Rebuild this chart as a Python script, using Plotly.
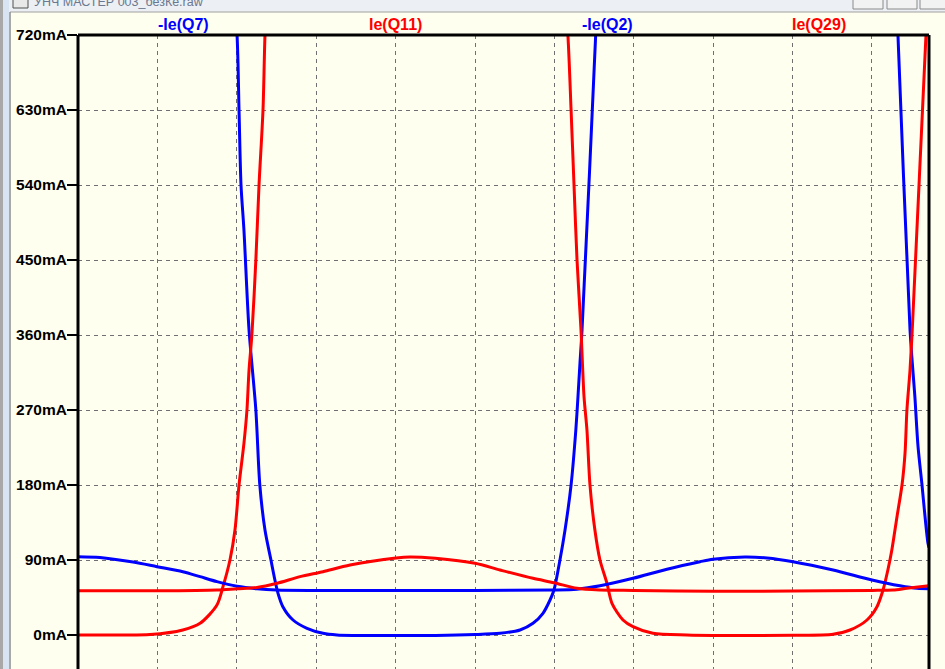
import plotly.graph_objects as go

# time in microseconds (grid every 100 us), currents in mA
t_q7 = [0, 150, 190, 200.3, 202.8, 205.3, 209, 215.4, 224, 229, 235.5, 243, 248, 251.9, 258, 270.8,
        288.4, 308.6, 326.2, 350, 400, 450, 500, 531.5, 556.7, 573, 585.6, 594.5, 599.5, 607,
        613.4, 621, 627, 629.7, 632.2, 634.8, 652, 662, 700, 800, 980, 1022, 1032.7, 1047.9,
        1054, 1058, 1063, 1066.8, 1070.5, 1071.8]
ie_q7 = [1500, 1100, 850, 720, 630, 540, 486, 366, 270, 180, 126, 90, 66, 50, 34, 18,
         8, 2, 0, -0.5, -0.6, -0.5, 0.5, 2, 6, 14, 26, 42, 54, 90,
         126, 180, 246, 286, 326, 366, 720, 950, 1300, 1500, 1300, 950, 720, 366,
         286, 226, 180, 142, 110, 105]

t_q11 = [0, 50, 90.7, 132, 153.7, 175, 182.6, 191.4, 197.7, 202.8, 209, 212.8, 215.4, 219, 224,
         228, 233, 235.5, 245, 300, 500, 600, 617, 621, 624.7, 628.5, 633.5, 637.3, 641, 644.8,
         651, 657.4, 666.2, 672.5, 686.4, 699, 724, 767, 800, 900, 951, 972.3, 993.7, 1006.3,
         1013.9, 1020, 1025, 1031.5, 1037.8, 1041.6, 1044, 1047.9, 1050.4, 1068, 1075]
ie_q11 = [0, 0, 0.5, 6, 14, 36, 58, 90, 126, 180, 230, 270, 318, 360, 450,
          540, 630, 720, 950, 1400, 1400, 950, 720, 630, 540, 450, 366, 286, 246, 180,
          126, 90, 62, 38, 18, 10, 2, 0, -0.5, -0.3, 1, 6, 18, 34,
          54, 78, 102, 142, 180, 218, 270, 318, 360, 720, 850]

t_q2 = [0, 27.7, 69.3, 99.5, 132, 153.7, 175, 200.3, 225.4, 250, 300, 400, 500, 600,
        628.5, 657.4, 699, 741.8, 783.4, 799.7, 840, 867.8, 900.5, 951, 1000, 1035.3, 1056.7, 1071.8]
ie_q2 = [94, 93, 87.5, 82, 76, 70, 64, 58.5, 55.5, 54, 53.5, 53.5, 53.5, 54,
         55, 59, 68, 79, 88, 91, 93.6, 92.4, 88, 78, 66, 59, 56, 55.5]

t_q29 = [0, 100, 175, 200.3, 225.4, 250.6, 279.6, 308.6, 342.6, 400.5, 418, 450, 500, 531.5,
         573, 599.5, 628.5, 657.4, 700, 800, 900, 1000, 1026.4, 1044, 1071.8]
ie_q29 = [53, 53, 54, 55.6, 57, 62, 70, 76, 84, 92.4, 93.6, 92, 86, 78,
          68, 62.8, 56, 54, 53.5, 52.5, 52.8, 53.5, 54, 56, 59]

y_ticks = [0, 90, 180, 270, 360, 450, 540, 630, 720]
y_labels = [str(v) + "mA" for v in y_ticks]

traces = [("-Ie(Q7)", t_q7, ie_q7, "#0000ff"),
          ("Ie(Q11)", t_q11, ie_q11, "#ff0000"),
          ("-Ie(Q2)", t_q2, ie_q2, "#0000ff"),
          ("Ie(Q29)", t_q29, ie_q29, "#ff0000")]

bg = "#fffff0"
W, H = 945, 669
L, R, T = 78, 929, 35
pw, ph = R - L, H - T


def px(x):
    return (x - L) / pw


def py(y):
    return (H - y) / ph


fig = go.Figure()
for name, t, y, col in traces:
    fig.add_trace(go.Scatter(x=t, y=y, mode="lines", name=name,
                             line=dict(color=col, width=3, shape="spline", smoothing=0.8)))

fig.update_layout(
    width=W, height=H,
    margin=dict(l=L, r=W - R, t=T, b=0),
    paper_bgcolor=bg, plot_bgcolor=bg,
    showlegend=False,
    font=dict(family="Liberation Sans, Arial, sans-serif", color="black"),
)
fig.update_xaxes(range=[0, 1071.8], dtick=100, tick0=0, showticklabels=False, ticks="",
                 showgrid=True, gridcolor="#707070", gridwidth=1, griddash="4px,4px",
                 zeroline=False, showline=False)
fig.update_yaxes(range=[-40.8, 720], tickvals=y_ticks, ticktext=y_labels,
                 tickfont=dict(size=15.5, weight="bold", color="black"),
                 ticks="outside", ticklen=10, tickwidth=2, tickcolor="black",
                 ticklabelstandoff=-3,
                 showgrid=True, gridcolor="#707070", gridwidth=1, griddash="4px,4px",
                 zeroline=False, showline=False)

shapes = []
# plot frame (bottom is cut off by the window)
shapes.append(dict(type="line", xref="paper", yref="paper", x0=0, x1=0, y0=0, y1=1,
                   line=dict(color="black", width=3)))
shapes.append(dict(type="line", xref="paper", yref="paper", x0=0, x1=1, y0=1, y1=1,
                   line=dict(color="black", width=3)))
shapes.append(dict(type="line", xref="paper", yref="paper", x0=1, x1=1, y0=0, y1=1,
                   line=dict(color="black", width=3)))
# window chrome: title bar and left border
shapes.append(dict(type="rect", xref="paper", yref="paper", x0=px(0), x1=px(W), y0=py(12), y1=py(-2),
                   fillcolor="#eceff3", line=dict(width=0), layer="below"))
shapes.append(dict(type="line", xref="paper", yref="paper", x0=px(10), x1=px(W), y0=py(12), y1=py(12),
                   line=dict(color="#a0a0a0", width=1)))
shapes.append(dict(type="rect", xref="paper", yref="paper", x0=px(0), x1=px(3), y0=py(H), y1=py(0),
                   fillcolor="#a8a8a8", line=dict(width=0)))
shapes.append(dict(type="rect", xref="paper", yref="paper", x0=px(3), x1=px(9), y0=py(H), y1=py(0),
                   fillcolor="#d8e4f2", line=dict(width=0)))
shapes.append(dict(type="line", xref="paper", yref="paper", x0=px(10), x1=px(10), y0=py(H), y1=py(12),
                   line=dict(color="#8c8c8c", width=1.5)))
shapes.append(dict(type="rect", xref="paper", yref="paper", x0=px(13), x1=px(28), y0=py(8), y1=py(-2),
                   fillcolor="#e8e8e8", line=dict(color="#505050", width=1)))
for bx0, bx1 in [(853, 883), (887, 917), (920, 950)]:
    shapes.append(dict(type="rect", xref="paper", yref="paper", x0=px(bx0), x1=px(bx1),
                       y0=py(9), y1=py(-4), fillcolor="#f2f2f2", line=dict(color="#8a8a8a", width=1)))
fig.update_layout(shapes=shapes)

annotations = []
label_x = [183.5, 395, 607.5, 819]
for (name, t, y, col), lx in zip(traces, label_x):
    annotations.append(dict(text=name, xref="paper", yref="paper", x=px(lx), y=py(24),
                            xanchor="center", yanchor="middle", showarrow=False,
                            font=dict(size=16, weight="bold", color=col)))
annotations.append(dict(text="УНЧ МАСТЕР 003_безКе.raw", xref="paper", yref="paper",
                        x=px(32), y=py(2), xanchor="left", yanchor="middle", showarrow=False,
                        font=dict(size=12.5, color="#6a7890")))
fig.update_layout(annotations=annotations)

# the page's default 8px body margin would shift the window
fig.write_html("out.html", config={"displayModeBar": False},
               post_script="document.body.style.margin='0';")
